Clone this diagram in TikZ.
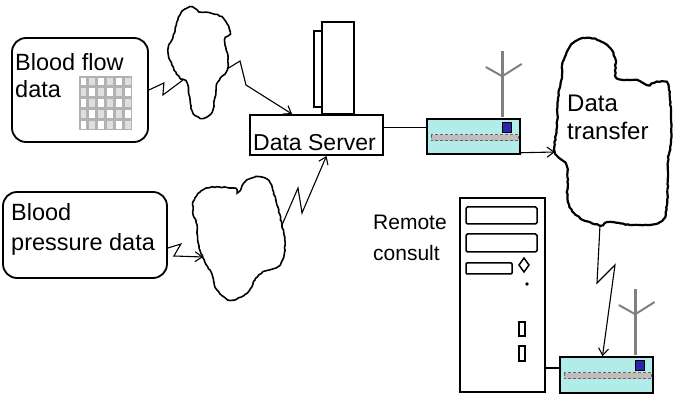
\documentclass[tikz,border=0pt]{standalone}
\usepackage{fontspec}
\setmainfont{Liberation Sans}
\usepackage{xcolor}
\usepackage{tikz}
\usetikzlibrary{arrows.meta, calc, decorations.pathmorphing}
\definecolor{modemcyan}{RGB}{178,236,232}
\definecolor{ledblue}{RGB}{40,40,175}
\definecolor{stripegray}{RGB}{196,188,188}
\tikzstyle{bolt} = [line width=1.1pt, line join=miter]
\tikzstyle{boltend} = [-{Straight Barb[length=7pt,width=10pt]}]
\tikzstyle{databox} = [draw, line width=1.8pt, rounded corners=14pt]
\tikzstyle{modem} = [draw, line width=1.5pt, fill=modemcyan, minimum width=93pt, minimum height=35pt]
\tikzstyle{cloudline} = [line width=1.6pt, decorate, decoration={random steps, segment length=2.5pt, amplitude=0.5pt}]
\tikzstyle{lbl} = [inner sep=0pt, align=left, anchor=north west]

\begin{document}
\begin{tikzpicture}[x=1pt,y=-1pt]
			\useasboundingbox (0,0) rectangle (673,395);
			\pgfmathsetseed{12}
			\begin{scope}[font=\fontsize{23.5}{27}\selectfont]
			
			% Sources:
			% the two measurement boxes, text set at their top left
			\node[databox, minimum width=136pt, minimum height=104pt] (bf) at (80,90) {};
			\node[lbl] (bftxt) at (15,53) {Blood flow\\data};
			
			\node[databox, minimum width=164pt, minimum height=86pt] (bp) at (85,235) {};
			\node[lbl, font=\fontsize{23.5}{30}\selectfont] (bptxt) at (11,203) {Blood\\pressure data};
			
			% small image grid in the blood flow box
			\begin{scope}[shift={(bf.north west)}]
			\fill[gray!60] (68,39) rectangle (121,93);
			\foreach \i in {0,...,5}
			\foreach \j in {0,...,4} {
				\pgfmathtruncatemacro\odd{mod(\i+\j,2)}
				\ifnum\odd=0
				\fill[white] ({68+\i*8.83+1.5},{39+\j*10.8+1.5}) rectangle ++(5.8,7.8);
				\else
				\fill[gray!25] ({68+\i*8.83+1.5},{39+\j*10.8+1.5}) rectangle ++(5.8,7.8);
				\fi
			}
			\end{scope}
			
			% Server:
			% box with the tower standing on it
			\node[draw, line width=1.8pt, minimum width=133pt, minimum height=40pt] (srv) at (316.5,135) {};
			\node[anchor=base west, inner sep=0pt, font=\fontsize{23}{27}\selectfont] (srvtxt) at (253,151) {Data Server};
			\begin{scope}[shift={(srv.north west)}, line width=1.8pt]
			\draw (73,-92) rectangle (105,0);
			\draw (65,-83) rectangle (73,-7);
			\end{scope}
			
			% Modems:
			\node[modem] (m1) at (473.5,136.5) {};
			\node[modem, minimum height=36pt] (m2) at (606.5,375) {};
			\foreach \m in {m1,m2} {
				\begin{scope}[shift={(\m.north west)}]
				\draw[gray, line width=3pt] (76,-0.8) -- (76,-67);
				\draw[gray, line width=2pt, line cap=round] (76,-42) -- (60,-51) (76,-42) -- (95,-54);
				\draw[gray!80!black, fill=stripegray, densely dashed, line width=0.5pt] (5,16.5) rectangle (92.2,22.5);
				\draw[black, fill=ledblue, line width=0.7pt] (76,4) rectangle (85,14);
				\end{scope}
			}
			
			% Remote computer
			\node[draw, line width=2pt, minimum width=85pt, minimum height=194pt] (pc) at (502.5,295) {};
			\begin{scope}[shift={(pc.north west)}, line width=1.5pt]
			\draw[rounded corners=1.5pt] (7,10) rectangle (78,27);
			\draw[rounded corners=1.5pt] (7,37) rectangle (78,55);
			\draw[rounded corners=1pt] (7,66) rectangle (53,77);
			\draw (65,61) -- (70,68) -- (65,75) -- (60,68) -- cycle;
			\fill (68,87) circle (1.8pt);
			\draw (60,125) rectangle (66,139);
			\draw (60,149) rectangle (66,164);
			\end{scope}
			\node[lbl, font=\fontsize{21}{31}\selectfont] (rc) at (373,215) {Remote\\consult};
			
			% Clouds:
			\draw[cloudline] plot[smooth cycle, tension=0.6] coordinates {(173,37) (180,15) (190,7) (200,12) (210,13) (223,18) (230,32) (225,40) (228,57) (227,70) (218,82) (215,97) (212,112) (203,118) (193,113) (190,100) (187,83) (180,78) (172,65) (168,50)};
			\draw[cloudline] plot[smooth cycle, tension=0.6] coordinates {(195,198) (207,188) (233,188) (238,192) (247,180) (260,177) (270,183) (277,205) (282,225) (285,245) (280,265) (263,272) (255,280) (247,293) (230,300) (217,290) (212,275) (203,258) (198,242) (197,225) (193,212)};
			\draw[cloudline, line width=2.2pt] plot[smooth cycle, tension=0.6] coordinates {(563,62) (573,43) (590,38) (607,45) (615,58) (617,78) (637,80) (647,85) (657,82) (668,85) (671,117) (671,142) (668,162) (667,205) (660,222) (633,225) (610,222) (600,225) (580,218) (568,202) (567,167) (555,152) (557,125) (558,98) (562,78)};
			\node[lbl, font=\fontsize{24}{28}\selectfont] (dt) at (567,95) {Data\\transfer};
			
			\coordinate (c1w) at (183,80);
			\coordinate (c1e) at (227,69);
			\coordinate (c3w) at (203,257);
			\coordinate (c3e) at (282,225);
			\coordinate (c2w) at (555,152);
			\coordinate (c2s) at (600,225);
			
			% Links:
			% radio links are zigzags, cables are straight lines
			\draw[bolt] (bf.east) -- ++(15,-7) -- ++(-1,12) -- (c1w);
			\draw[bolt, boltend] (c1e) -- ++(13,-8) -- ++(6,24) -- ([xshift=43pt]srv.north west);
			\draw[bolt, boltend] ([yshift=-13pt]bp.east) -- ++(13,-4) -- ++(-7,12) -- (c3w);
			\draw[bolt, boltend] (c3e) -- ++(16,-37) -- ++(4,25) -- ([xshift=10pt]srv.south);
			\draw[bolt, boltend] ([yshift=2pt]m1.south east) -- (c2w);
			\draw[bolt, boltend] (c2s) -- ++(-3,58) -- ++(18,-18) -- ([xshift=-4pt]m2.north);
			
			\coordinate (m1in) at ([yshift=9pt]m1.west);
			\coordinate (m2in) at ([yshift=7pt]m2.west);
			\draw[line width=1.8pt] (srv.east |- m1in) -- (m1in);
			\draw[line width=1.8pt] (pc.east |- m2in) -- (m2in);
			
			\end{scope}
			
			\end{tikzpicture}
\end{document}
